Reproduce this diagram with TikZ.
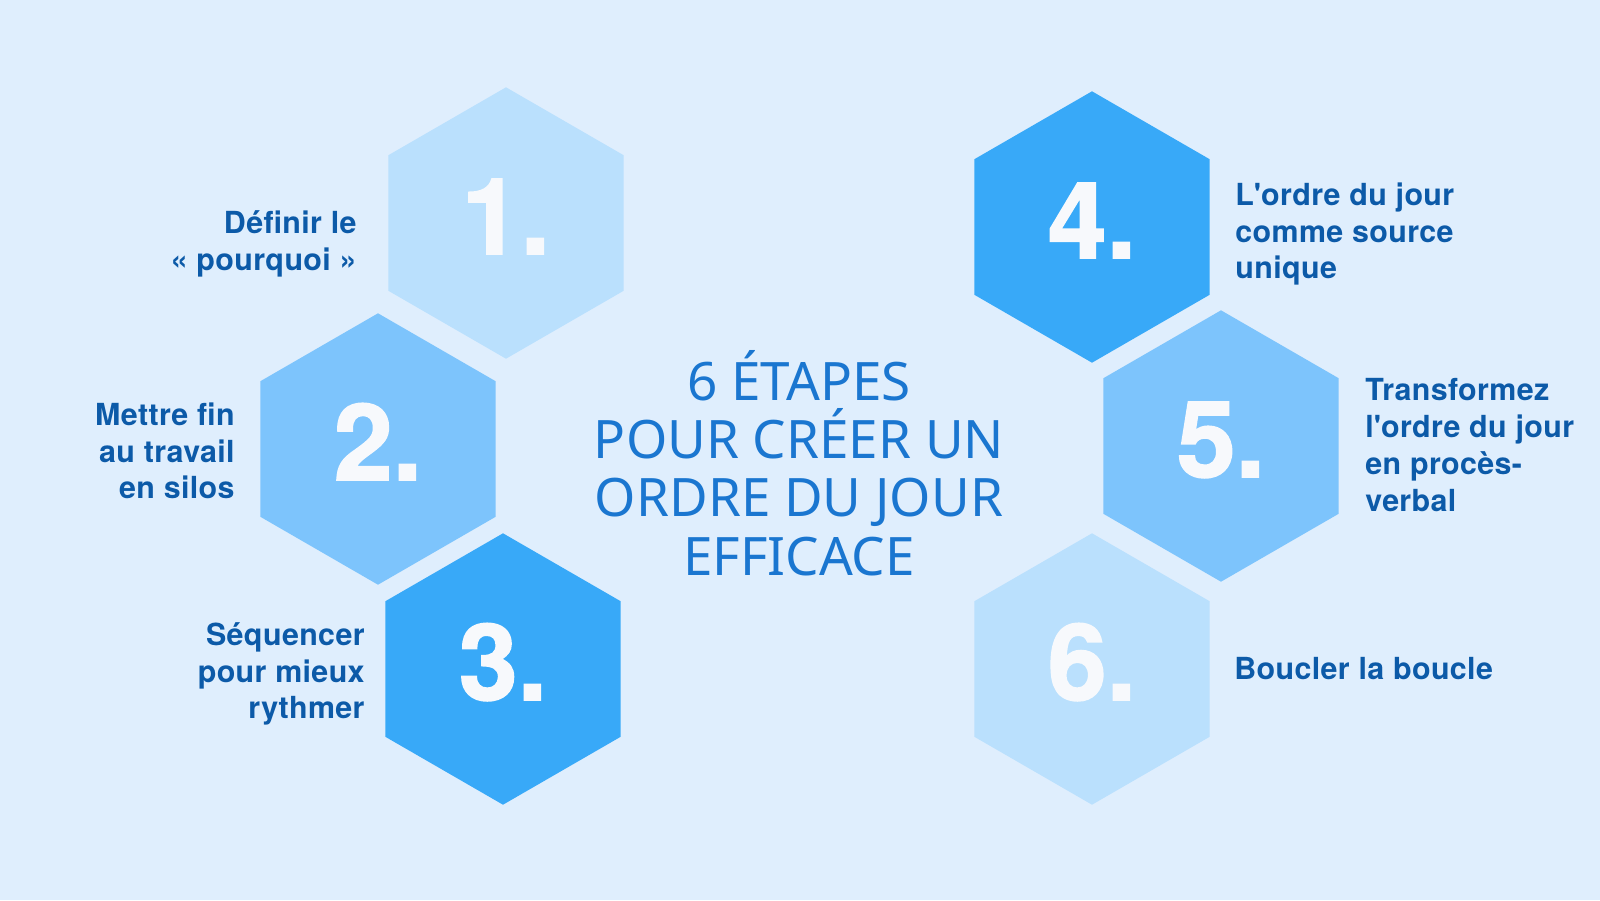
\documentclass[tikz,border=0pt]{standalone}
\usepackage{fontspec}
\setmainfont{Noto Sans}
\newfontfamily\lblfont{TeX Gyre Heros}[LetterSpace=1.2]
\newfontfamily\numfont{TeX Gyre Heros}[BoldFeatures={FakeBold=1.5}]
\usetikzlibrary{shapes.geometric}
\definecolor{bgblue}{HTML}{DFEEFD}
\definecolor{hexlight}{HTML}{BAE0FD}
\definecolor{hexmid}{HTML}{7DC4FC}
\definecolor{hexdark}{HTML}{38A9F8}
\definecolor{labelblue}{HTML}{0C5AA8}
\definecolor{titleblue}{HTML}{1A76D0}
\definecolor{numwhite}{HTML}{F7F9FC}
\begin{document}
\begin{tikzpicture}[x=0.5pt,y=-0.5pt,
  hexa/.style={regular polygon, regular polygon sides=6, shape border rotate=30,
    minimum size=135.7pt, inner sep=0pt, outer sep=0pt, draw=none,
    text height=38pt, text depth=7pt,
    text=numwhite, font=\numfont\fontsize{53}{60}\selectfont\bfseries},
  lbl/.style={text=labelblue, font=\lblfont\fontsize{15.2}{18.4}\selectfont\bfseries, inner sep=0pt},
  ttl/.style={text=titleblue, font=\fontsize{26.5}{29.2}\selectfont, align=center, inner sep=0pt}]

\useasboundingbox (0,0) rectangle (1600,900);
\fill[bgblue] (0,0) rectangle (1600,900);

\node[hexa, fill=hexlight] (h1) at (506,223) {1.};
\node[hexa, fill=hexmid]   (h2) at (378,449) {2.};
\node[hexa, fill=hexdark]  (h3) at (503,669) {3.};
\node[hexa, fill=hexdark]  (h4) at (1092,227) {4.};
\node[hexa, fill=hexmid]   (h5) at (1221,446) {5.};
\node[hexa, fill=hexlight] (h6) at (1092,669) {6.};

\node[lbl, anchor=east, align=right] (t1) at (357,244) {Définir le\\« pourquoi »};
\node[lbl, anchor=east, align=right] (t2) at (235,451) {Mettre fin\\au travail\\en silos};
\node[lbl, anchor=east, align=right] (t3) at (365,674) {Séquencer\\pour mieux\\rythmer};
\node[lbl, anchor=west, align=left] (t4) at (1235,234) {L\textquotesingle ordre du jour\\comme source\\unique};
\node[lbl, anchor=west, align=left] (t5) at (1365,445) {Transformez\\l\textquotesingle ordre du jour\\en procès-\\verbal};
\node[lbl, anchor=west, align=left] (t6) at (1234,669) {Boucler la boucle};

\node[ttl] (titre) at (799,463) {6 ÉTAPES\\POUR CRÉER UN\\ORDRE DU JOUR\\EFFICACE};
\end{tikzpicture}
\end{document}
